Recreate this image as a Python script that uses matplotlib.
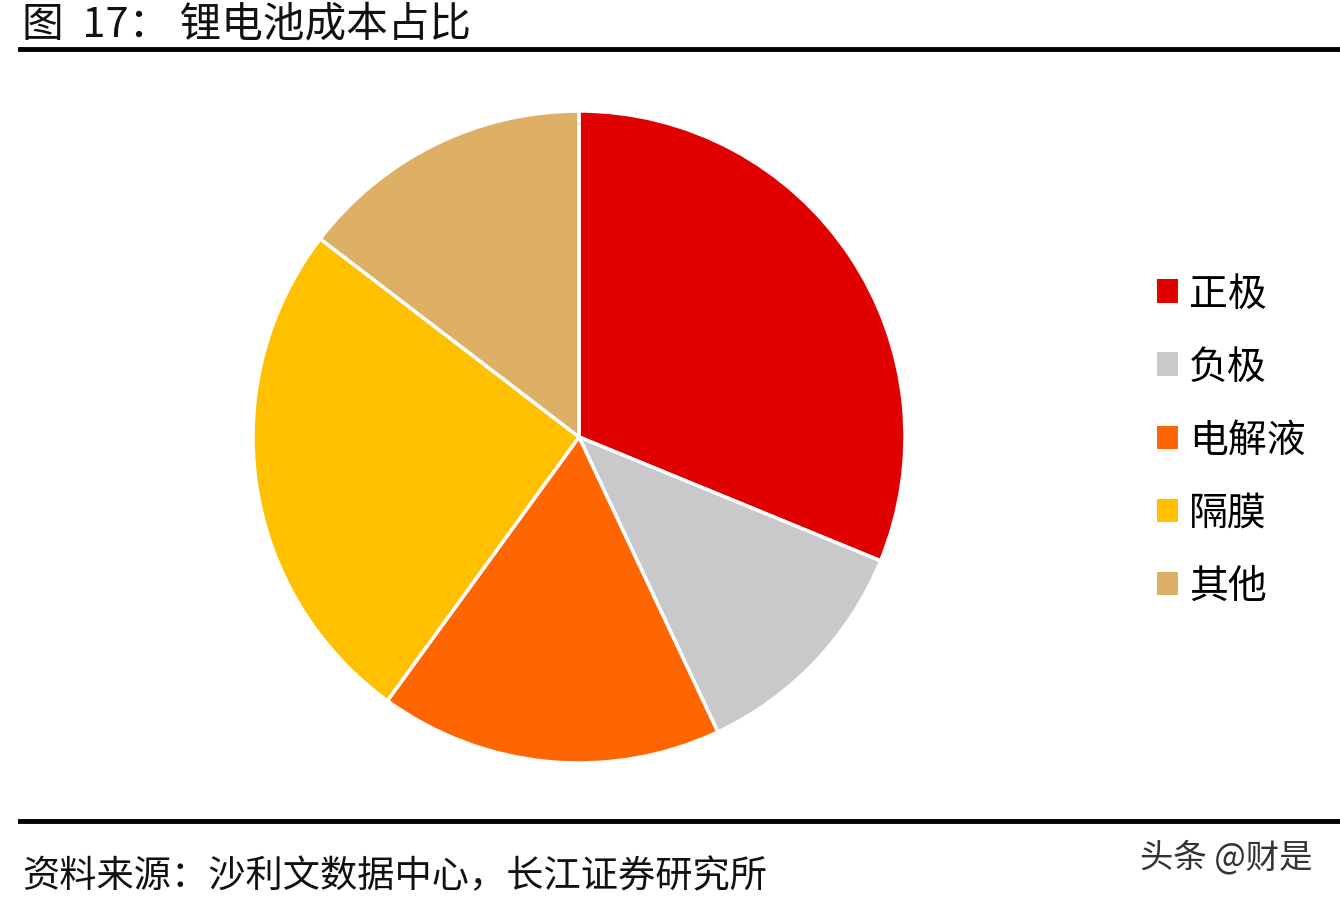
import matplotlib.pyplot as plt
from matplotlib.lines import Line2D
from matplotlib.patches import Patch

plt.rcParams['font.family'] = ['Noto Sans CJK SC', 'DejaVu Sans']

# data (share of cost, %)
labels = ['正极', '负极', '电解液', '隔膜', '其他']
values = [31.2, 11.8, 17.0, 25.4, 14.6]
colors = ['#E00000', '#C9C8CA', '#FF6600', '#FFC000', '#DEB066']

title = '图  17： 锂电池成本占比'
source = '资料来源：沙利文数据中心，长江证券研究所'
mark = '头条 @财是'

W, H = 1340, 904
fig = plt.figure(figsize=(W / 100, H / 100), dpi=100)

# pie placed by pixel: centre (579, 438), radius 326
cx, cy, r = 579, 438, 326
ax = fig.add_axes([(cx - r) / W, (H - cy - r) / H, 2 * r / W, 2 * r / H])
ax.pie(values, colors=colors, startangle=90, counterclock=False, radius=1,
       wedgeprops=dict(edgecolor='white', linewidth=2.5))
ax.set_xlim(-1.0, 1.0)
ax.set_ylim(-1.0, 1.0)
ax.set_aspect('equal')
ax.axis('off')

# legend
handles = [Patch(facecolor=c, edgecolor='none') for c in colors]
fig.legend(handles, labels, loc='center left', bbox_to_anchor=(1157 / W, 1 - 441 / H),
           frameon=False, fontsize=28, handlelength=0.55, handleheight=0.55,
           handletextpad=0.28, labelspacing=0.85, borderpad=0, borderaxespad=0)

# title, rules, source
fig.text(22 / W, 1 - 25 / H, title, fontsize=30, va='center', ha='left', color='#111111')
fig.add_artist(Line2D([20 / W, 1.0], [1 - 50 / H, 1 - 50 / H], color='black', linewidth=3.5))
fig.add_artist(Line2D([20 / W, 1.0], [1 - 822 / H, 1 - 822 / H], color='black', linewidth=3.5))
fig.text(22 / W, 1 - 877 / H, source, fontsize=26.8, va='center', ha='left', color='#111111')
fig.text(1312 / W, 1 - 858 / H, mark, fontsize=24, va='center', ha='right', color='#333333')

fig.savefig('out.png', dpi=100, facecolor='white')
